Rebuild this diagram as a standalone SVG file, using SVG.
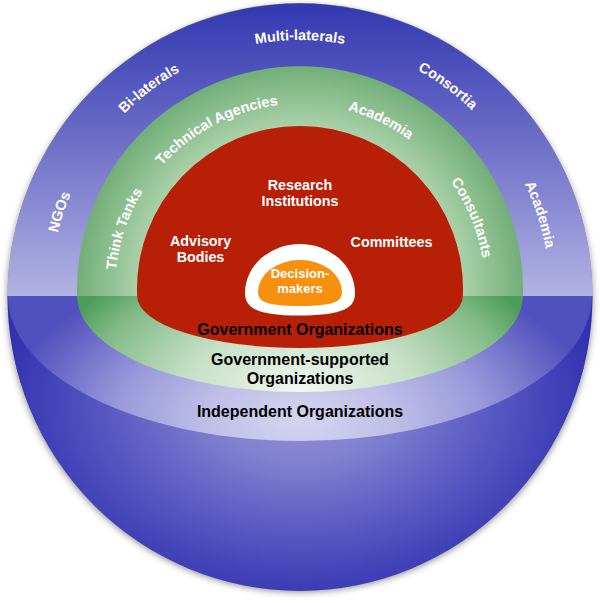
<svg xmlns="http://www.w3.org/2000/svg" xmlns:xlink="http://www.w3.org/1999/xlink" width="600" height="603" viewBox="0 0 600 603">
<defs>
  <style>
    .w { fill:#ffffff; font-family:"Liberation Sans", Arial, sans-serif; font-weight:bold; font-size:14.3px; }
    .arc { font-size:14.5px; }
    .k { fill:#000000; font-family:"Liberation Sans", Arial, sans-serif; font-weight:bold; font-size:16px; }
    .c { text-anchor:middle; }
  </style>
  <filter id="shadow" x="-10%" y="-10%" width="120%" height="125%">
    <feDropShadow dx="0" dy="3" stdDeviation="3.5" flood-color="#000" flood-opacity="0.45"/>
  </filter>
  <linearGradient id="blueTop" gradientUnits="userSpaceOnUse" x1="0" y1="4" x2="0" y2="296">
    <stop offset="0" stop-color="#3338b2"/>
    <stop offset="0.45" stop-color="#6a6cc6"/>
    <stop offset="1" stop-color="#b2b2e2"/>
  </linearGradient>
  <radialGradient id="bowl" gradientUnits="userSpaceOnUse" cx="300" cy="400" r="300" gradientTransform="translate(300 400) scale(1 0.7) translate(-300 -400)">
    <stop offset="0" stop-color="#9494d8"/>
    <stop offset="0.3" stop-color="#8080d0"/>
    <stop offset="0.7" stop-color="#5252c0"/>
    <stop offset="1" stop-color="#3232b0"/>
  </radialGradient>
  <radialGradient id="band" gradientUnits="userSpaceOnUse" cx="300" cy="420" r="300" gradientTransform="translate(300 420) scale(1 0.55) translate(-300 -420)">
    <stop offset="0" stop-color="#d4d4f0"/>
    <stop offset="0.3" stop-color="#c0c0e8"/>
    <stop offset="0.6" stop-color="#9a9adc"/>
    <stop offset="0.9" stop-color="#6262c4"/>
    <stop offset="1" stop-color="#5050be"/>
  </radialGradient>
  <radialGradient id="greenTop" gradientUnits="userSpaceOnUse" cx="300" cy="289" r="223">
    <stop offset="0.7" stop-color="#b0d4ae"/>
    <stop offset="1" stop-color="#72ae78"/>
  </radialGradient>
  <radialGradient id="greenBottom" gradientUnits="userSpaceOnUse" cx="300" cy="392" r="260" gradientTransform="translate(300 392) scale(1 0.6) translate(-300 -392)">
    <stop offset="0" stop-color="#f2f7f2"/>
    <stop offset="0.45" stop-color="#c4dfc4"/>
    <stop offset="0.8" stop-color="#84bc88"/>
    <stop offset="1" stop-color="#4c9c5a"/>
  </radialGradient>
  <path id="blueArc" d="M50,296 A250,256 0 0 1 550,296"/>
  <path id="greenArc" d="M115,289 A185,185 0 0 1 485,289"/>
</defs>

<g id="independent-organizations">
  <ellipse cx="300" cy="296" rx="292.5" ry="293" fill="#888" filter="url(#shadow)"/>
  <path d="M7.5,296 A292.5,292.5 0 0 1 592.5,296 Z" fill="url(#blueTop)"/>
  <path d="M7.5,296 A292.5,295 0 0 0 592.5,296 Z" fill="url(#bowl)"/>
  <path d="M8,296 A292,145 0 0 0 592,296 Z" fill="url(#band)"/>
  <text class="w arc c"><textPath href="#blueArc" xlink:href="#blueArc" startOffset="10.6%">NGOs</textPath></text>
  <text class="w arc c"><textPath href="#blueArc" xlink:href="#blueArc" startOffset="29.8%">Bi-laterals</textPath></text>
  <text class="w arc c"><textPath href="#blueArc" xlink:href="#blueArc" startOffset="50%">Multi-laterals</textPath></text>
  <text class="w arc c"><textPath href="#blueArc" xlink:href="#blueArc" startOffset="69.7%">Consortia</textPath></text>
  <text class="w arc c"><textPath href="#blueArc" xlink:href="#blueArc" startOffset="89.7%">Academia</textPath></text>
  <text class="k c" x="300" y="417">Independent Organizations</text>
</g>

<g id="government-supported-organizations">
  <path d="M77.1,296 A223,223 0 1 1 522.9,296 Z" fill="url(#greenTop)"/>
  <path d="M77.1,296 A222.9,96 0 0 0 522.9,296 Z" fill="url(#greenBottom)"/>
  <text class="w arc c"><textPath href="#greenArc" xlink:href="#greenArc" startOffset="10.5%">Think Tanks</textPath></text>
  <text class="w arc c"><textPath href="#greenArc" xlink:href="#greenArc" startOffset="34.7%">Technical Agencies</textPath></text>
  <text class="w arc c"><textPath href="#greenArc" xlink:href="#greenArc" startOffset="64.2%">Academia</textPath></text>
  <text class="w arc c"><textPath href="#greenArc" xlink:href="#greenArc" startOffset="87.5%">Consultants</textPath></text>
  <text class="k c" x="300" y="365">Government-supported</text>
  <text class="k c" x="300" y="383.5">Organizations</text>
</g>

<g id="government-organizations">
  <path d="M137.15,296 A163,163 0 1 1 462.85,296 A162.85,52 0 0 1 137.15,296 Z" fill="#b81f07"/>
  <text class="w c" x="300" y="189.5">Research</text>
  <text class="w c" x="300" y="206">Institutions</text>
  <text class="w c" x="200.5" y="245.7">Advisory</text>
  <text class="w c" x="200.5" y="261.7">Bodies</text>
  <text class="w c" x="391.5" y="246.7">Committees</text>
  <text class="k c" x="300" y="335">Government Organizations</text>
</g>

<g id="decision-makers">
  <path d="M245,293 A55,49 0 0 1 355,293 C355,307 345,315.5 300,315.5 C255,315.5 245,307 245,293 Z" fill="#ffffff"/>
  <path d="M258,292 A42,32 0 0 1 342,292 C342,301 335,306 300,306 C265,306 258,301 258,292 Z" fill="#f7900e"/>
  <text class="w c" style="font-size:13px" x="300" y="278.3">Decision-</text>
  <text class="w c" style="font-size:13px" x="300" y="293.3">makers</text>
</g>

<g id="connectors"/>
</svg>
